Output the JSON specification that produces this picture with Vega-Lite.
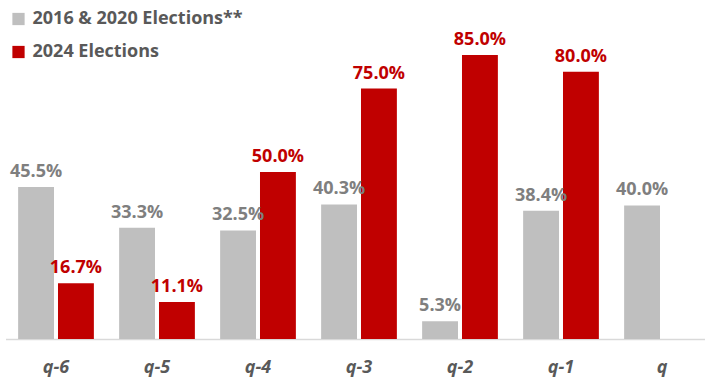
{
  "$schema": "https://vega.github.io/schema/vega-lite/v6.json",
  "autosize": "none",
  "width": 707,
  "height": 334,
  "padding": {"left": 5.5, "top": 5, "right": 0, "bottom": 40},
  "background": "white",
  "config": {"view": {"stroke": null}, "font": "Open Sans"},
  "data": {"values": [
    {"period": "q-6", "series": "2016 & 2020 Elections**", "value": 0.455},
    {"period": "q-6", "series": "2024 Elections", "value": 0.167},
    {"period": "q-5", "series": "2016 & 2020 Elections**", "value": 0.333},
    {"period": "q-5", "series": "2024 Elections", "value": 0.111},
    {"period": "q-4", "series": "2016 & 2020 Elections**", "value": 0.325},
    {"period": "q-4", "series": "2024 Elections", "value": 0.5},
    {"period": "q-3", "series": "2016 & 2020 Elections**", "value": 0.403},
    {"period": "q-3", "series": "2024 Elections", "value": 0.75},
    {"period": "q-2", "series": "2016 & 2020 Elections**", "value": 0.053},
    {"period": "q-2", "series": "2024 Elections", "value": 0.85},
    {"period": "q-1", "series": "2016 & 2020 Elections**", "value": 0.384},
    {"period": "q-1", "series": "2024 Elections", "value": 0.8},
    {"period": "q", "series": "2016 & 2020 Elections**", "value": 0.4}
  ]},
  "encoding": {
    "x": {
      "field": "period", "type": "nominal",
      "sort": ["q-6", "q-5", "q-4", "q-3", "q-2", "q-1", "q"],
      "scale": {"paddingInner": 0.25, "paddingOuter": 0.125},
      "axis": {
        "title": null, "ticks": false, "grid": false, "labelAngle": 0,
        "domainColor": "#d9d9d9", "domainWidth": 1.5,
        "labelFont": "Open Sans", "labelFontSize": 18, "labelFontWeight": "bold",
        "labelFontStyle": "italic", "labelColor": "#595959", "labelPadding": 19
      }
    },
    "xOffset": {
      "field": "series", "type": "nominal",
      "scale": {"domain": ["2016 & 2020 Elections**", "2024 Elections"], "paddingInner": 0.1}
    },
    "y": {
      "field": "value", "type": "quantitative",
      "scale": {"domain": [0, 1], "nice": false},
      "axis": null
    }
  },
  "layer": [
    {
      "mark": {"type": "bar"},
      "encoding": {
        "color": {
          "field": "series", "type": "nominal",
          "scale": {"domain": ["2016 & 2020 Elections**", "2024 Elections"], "range": ["#bfbfbf", "#c00000"]},
          "legend": {
            "title": null, "orient": "none", "legendX": 4, "legendY": 5,
            "symbolType": "square", "symbolSize": 150, "symbolStrokeWidth": 0,
            "labelFont": "Open Sans", "labelFontSize": 18, "labelFontWeight": "bold",
            "labelColor": "#595959", "rowPadding": 15, "labelOffset": 5, "labelLimit": 400
          }
        }
      }
    },
    {
      "mark": {"type": "text", "baseline": "bottom", "dy": -6, "fontSize": 18, "fontWeight": "bold", "font": "Open Sans"},
      "encoding": {
        "text": {"field": "value", "type": "quantitative", "format": ".1%"},
        "color": {
          "condition": {"test": "datum.series === '2024 Elections'", "value": "#c00000"},
          "value": "#7f7f7f"
        }
      }
    }
  ]
}
